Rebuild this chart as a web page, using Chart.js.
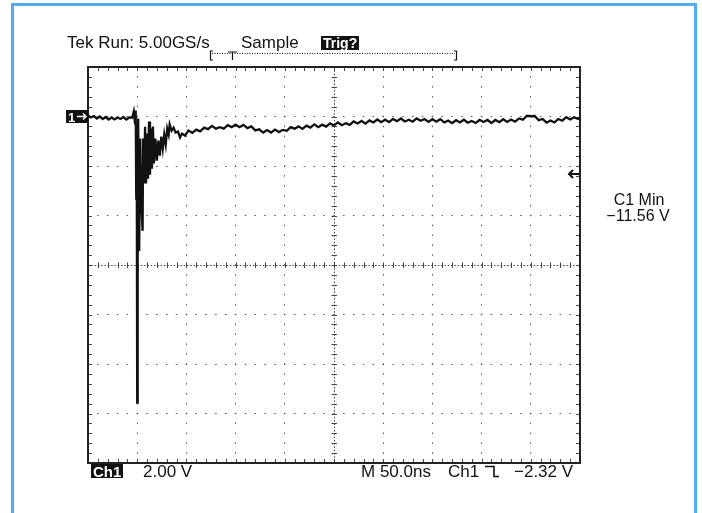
<!DOCTYPE html>
<html><head><meta charset="utf-8">
<script src="https://cdn.jsdelivr.net/npm/chart.js@4/dist/chart.umd.min.js"></script>
<style>
html,body{margin:0;padding:0;background:#fff;}
#wrap{position:relative;width:702px;height:513px;overflow:hidden;background:#fff;}
#frame{position:absolute;left:11px;top:3px;width:686px;height:600px;border:3px solid #55aaf0;box-sizing:border-box;}
canvas{position:absolute;left:0;top:0;}
</style></head>
<body><div id="wrap"><div id="frame"></div><canvas id="c" width="702" height="513"></canvas></div>
<script>
// ---- data (time in ns relative to trigger, Ch1 in volts) ----
const preTrigTimes = [-50,-47,-44,-41,-38,-35,-32,-29,-26,-23,-20,-17,-14,-11,-8];
const preTrigVolts = [0.04,-0.04,0.02,-0.08,0.00,-0.10,-0.02,-0.12,-0.04,-0.12,-0.04,-0.10,-0.02,-0.12,-0.04];
const ringTimes = [-5,-3.5,-2.2,-1.5,-1,-0.5,0,0.5,1,2,3,4,5.5,6,7,8,9,10,11,12,13,14,15,16,17,18.5,20,21.5,23,24.5,26,27.5,29,30.5,32,33,35,37,39,41.5,43.5,45.5,48.5];
const ringVolts = [-0.04,0.2,-0.28,0.24,-3.32,-0.49,-11.56,-3.32,-0.08,-5.43,-0.89,-3.32,-4.62,-0.89,-2.71,-0.41,-2.71,-0.69,-2.51,-0.20,-2.35,-0.49,-2.11,-0.41,-1.90,-0.89,-1.78,-0.97,-1.58,-0.81,-1.30,-0.73,-1.13,-0.49,-0.73,-0.32,-0.57,-0.45,-0.65,-0.61,-0.85,-0.69,-0.77];
const tailTimes = [52,56,60,64,68,72,76,80,84,88,92,96,100,104,108,112,116,120,124,128,132,136,140,144,148,152,156,160,164,168,172,176,180,184,188,192,196,200,204,208,212,216,220,224,228,232,236,240,244,248,252,256,260,264,268,272,276,280,284,288,292,296,300,304,308,312,316,320,324,328,332,336,340,344,348,352,356,360,364,368,372,376,380,384,388,392,396,400,404,408,412,416,420,424,428,432,436,440,444,448,450];
const tailVolts = [-0.57,-0.66,-0.53,-0.60,-0.45,-0.51,-0.38,-0.49,-0.43,-0.49,-0.35,-0.43,-0.33,-0.43,-0.34,-0.47,-0.40,-0.56,-0.52,-0.65,-0.55,-0.65,-0.53,-0.63,-0.54,-0.58,-0.43,-0.49,-0.40,-0.50,-0.37,-0.45,-0.32,-0.43,-0.33,-0.41,-0.28,-0.36,-0.24,-0.35,-0.27,-0.34,-0.20,-0.28,-0.18,-0.29,-0.16,-0.24,-0.12,-0.23,-0.13,-0.23,-0.10,-0.19,-0.08,-0.20,-0.13,-0.21,-0.08,-0.17,-0.10,-0.22,-0.11,-0.21,-0.11,-0.24,-0.16,-0.27,-0.15,-0.24,-0.13,-0.25,-0.18,-0.26,-0.14,-0.22,-0.14,-0.26,-0.14,-0.23,-0.11,-0.22,-0.12,-0.21,-0.08,-0.13,0.03,0.01,0.02,-0.15,-0.10,-0.25,-0.16,-0.24,-0.10,-0.17,-0.03,-0.12,-0.03,-0.10,-0.04];
const timeTicks = [-50,0,50,100,150,200,250,300,350,400,450];   // 50 ns/div
const voltTicks = [-14,-12,-10,-8,-6,-4,-2,0,2];                 // 2 V/div
const groundLevel = 0;
const trigLevel = -2.32;
const statusText = 'Tek Run: 5.00GS/s';
const modeText = 'Sample';
const trigText = 'Trig?';
const chText = 'Ch1';
const vdivText = '2.00 V';
const tbaseText = 'M 50.0ns';
const trigSrcText = 'Ch1';
const trigLvlText = '\u22122.32 V';
const measName = 'C1 Min';
const measValue = '\u221211.56 V';

const times = preTrigTimes.concat(ringTimes, tailTimes);
const volts = preTrigVolts.concat(ringVolts, tailVolts);
const points = times.map((t, i) => ({x: t, y: volts[i]}));

const FONT = '"Liberation Sans", Arial, sans-serif';

const scopePlugin = {
  id: 'scope',
  beforeDatasetsDraw(chart) {
    const {ctx, chartArea: a, scales: {x, y}} = chart;
    ctx.save();
    const cx = x.getPixelForValue(200), cy = y.getPixelForValue(-6);
    ctx.strokeStyle = '#444'; ctx.lineWidth = 1;
    ctx.setLineDash([1.5, 1.8]);
    ctx.beginPath();
    ctx.moveTo(a.left, Math.round(cy) + 0.5); ctx.lineTo(a.right, Math.round(cy) + 0.5);
    ctx.moveTo(Math.round(cx) + 0.5, a.top); ctx.lineTo(Math.round(cx) + 0.5, a.bottom);
    ctx.stroke();
    ctx.setLineDash([]);
    ctx.beginPath();
    for (let k = 0; k <= 50; k++) {
      const px = Math.round(x.getPixelForValue(-50 + k * 10)) + 0.5;
      ctx.moveTo(px, cy - 2.5); ctx.lineTo(px, cy + 3);
      ctx.moveTo(px, a.top); ctx.lineTo(px, a.top + 4);
      ctx.moveTo(px, a.bottom - 4); ctx.lineTo(px, a.bottom);
    }
    for (let k = 0; k <= 40; k++) {
      const py = Math.round(y.getPixelForValue(-14 + k * 0.4)) + 0.5;
      ctx.moveTo(cx - 2.5, py); ctx.lineTo(cx + 3, py);
      ctx.moveTo(a.left, py); ctx.lineTo(a.left + 4, py);
      ctx.moveTo(a.right - 4, py); ctx.lineTo(a.right, py);
    }
    ctx.stroke();
    ctx.strokeStyle = '#222'; ctx.lineWidth = 2;
    ctx.strokeRect(a.left, a.top, a.right - a.left, a.bottom - a.top);
    ctx.restore();
  },
  afterDraw(chart) {
    const {ctx, chartArea: a, scales: {x, y}} = chart;
    ctx.save();
    ctx.fillStyle = '#111'; ctx.strokeStyle = '#111';
    ctx.textBaseline = 'alphabetic';
    ctx.font = '17px ' + FONT;
    ctx.textAlign = 'left';
    ctx.fillText(statusText, 67, 48);
    ctx.fillText(modeText, 241, 48);
    ctx.fillRect(321, 36, 38, 14);
    ctx.fillStyle = '#fff';
    ctx.font = 'bold 14px ' + FONT;
    ctx.fillText(trigText, 323, 48);
    ctx.fillStyle = '#111';
    // record bracket
    ctx.lineWidth = 1.2;
    ctx.beginPath();
    ctx.moveTo(213, 51); ctx.lineTo(210.5, 51); ctx.lineTo(210.5, 60); ctx.lineTo(213, 60);
    ctx.moveTo(454, 51); ctx.lineTo(456.5, 51); ctx.lineTo(456.5, 60); ctx.lineTo(454, 60);
    ctx.moveTo(228, 52); ctx.lineTo(237, 52); ctx.moveTo(232.5, 52); ctx.lineTo(232.5, 60);
    ctx.stroke();
    ctx.setLineDash([1, 1.5]);
    ctx.beginPath(); ctx.moveTo(212, 53.5); ctx.lineTo(455, 53.5); ctx.stroke();
    ctx.setLineDash([]);
    // ground marker
    const gy = y.getPixelForValue(groundLevel);
    ctx.fillRect(66, gy - 6.5, 22, 13);
    ctx.fillStyle = '#fff';
    ctx.font = 'bold 13px ' + FONT;
    ctx.fillText('1', 68, gy + 5);
    ctx.strokeStyle = '#fff'; ctx.lineWidth = 1.5;
    ctx.beginPath();
    ctx.moveTo(77, gy); ctx.lineTo(86, gy);
    ctx.moveTo(83, gy - 3); ctx.lineTo(86, gy); ctx.lineTo(83, gy + 3);
    ctx.stroke();
    ctx.fillStyle = '#111'; ctx.strokeStyle = '#111';
    // trigger level arrow
    const ty = y.getPixelForValue(trigLevel);
    ctx.lineWidth = 2;
    ctx.beginPath();
    ctx.moveTo(a.right - 1, ty); ctx.lineTo(a.right - 11, ty);
    ctx.moveTo(a.right - 7, ty - 4); ctx.lineTo(a.right - 11, ty); ctx.lineTo(a.right - 7, ty + 4);
    ctx.stroke();
    // measurement readout
    ctx.font = '16px ' + FONT;
    ctx.textAlign = 'center';
    ctx.fillText(measName, 639, 205);
    ctx.fillText(measValue, 638, 221);
    ctx.textAlign = 'left';
    // bottom status line
    ctx.fillRect(91, 464, 32, 14);
    ctx.fillStyle = '#fff';
    ctx.font = 'bold 15px ' + FONT;
    ctx.fillText(chText, 93, 477);
    ctx.fillStyle = '#111';
    ctx.font = '17px ' + FONT;
    ctx.fillText(vdivText, 143, 477);
    ctx.fillText(tbaseText, 361, 477);
    ctx.fillText(trigSrcText, 448, 477);
    ctx.fillText(trigLvlText, 514, 477);
    ctx.lineWidth = 1.6;
    ctx.beginPath();
    ctx.moveTo(485, 466.5); ctx.lineTo(494, 466.5); ctx.lineTo(494, 476.5); ctx.lineTo(499, 476.5);
    ctx.stroke();
    ctx.restore();
  }
};

new Chart(document.getElementById('c'), {
  type: 'line',
  data: { datasets: [{ data: points, borderColor: '#111', borderWidth: 2.3, pointRadius: 0, tension: 0, fill: false }] },
  options: {
    responsive: false, animation: false, devicePixelRatio: 1,
    layout: { padding: { left: 88, top: 67, right: 122, bottom: 50 } },
    plugins: { legend: { display: false }, tooltip: { enabled: false }, title: { display: false } },
    scales: {
      x: {
        type: 'linear', min: -50, max: 450,
        afterBuildTicks: s => { s.ticks = timeTicks.map(v => ({value: v})); },
        ticks: { display: false },
        grid: { drawTicks: false, lineWidth: 1, color: c => (c.tick && (c.tick.value === 200 || c.tick.value === -50 || c.tick.value === 450)) ? 'rgba(0,0,0,0)' : '#555' },
        border: { display: false, dash: [1.5, 8.4], dashOffset: 0.75 }
      },
      y: {
        type: 'linear', min: -14, max: 2,
        afterBuildTicks: s => { s.ticks = voltTicks.map(v => ({value: v})); },
        ticks: { display: false },
        grid: { drawTicks: false, lineWidth: 1, color: c => (c.tick && (c.tick.value === -6 || c.tick.value === -14 || c.tick.value === 2)) ? 'rgba(0,0,0,0)' : '#555' },
        border: { display: false, dash: [1.5, 8.34], dashOffset: 0.75 }
      }
    }
  },
  plugins: [scopePlugin]
});
</script>
</body></html>
